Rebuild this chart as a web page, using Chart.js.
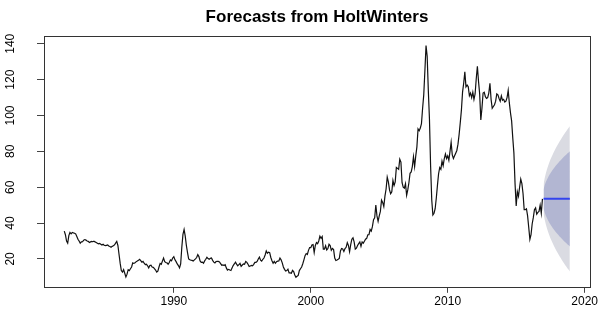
<!DOCTYPE html>
<html>
<head>
<meta charset="utf-8">
<script src="https://cdn.jsdelivr.net/npm/chart.js@4.4.1/dist/chart.umd.min.js"></script>
<style>
  body { margin: 0; background: #fff; }
  #wrap { width: 602px; height: 310px; }
</style>
</head>
<body>
<div id="wrap"><canvas id="myChart" width="602" height="310"></canvas></div>
<script>
// monthly observations, Jan 1982 .. Dec 2016
const startYear = 1982;
const price = [
  35.5, 33.5, 30.0, 28.8, 33.0, 34.8, 34.0, 34.8, 34.5, 34.3, 34.0, 32.5, // 1982
  31.0, 30.0, 28.8, 29.5, 29.6, 30.5, 30.8, 30.5, 30.0, 29.8, 29.2, 29.5, // 1983
  29.8, 29.6, 29.9, 29.5, 29.2, 28.8, 28.4, 28.6, 28.2, 27.8, 28.2, 27.6, // 1984
  27.4, 27.6, 27.8, 27.2, 26.9, 26.5, 27.0, 27.3, 27.8, 28.8, 29.8, 27.5, // 1985
  22.5, 17.5, 13.5, 12.7, 14.0, 12.0, 9.9, 11.5, 14.0, 13.5, 14.5, 15.5,  // 1986
  17.8, 17.5, 17.8, 18.5, 18.8, 19.2, 19.8, 19.0, 18.2, 18.6, 17.6, 16.8, // 1987
  17.0, 16.2, 15.0, 16.3, 16.5, 15.5, 15.3, 14.6, 13.8, 12.7, 13.2, 15.5, // 1988
  17.5, 17.0, 18.8, 20.5, 18.5, 18.0, 17.8, 17.0, 18.0, 19.5, 19.0, 20.5, // 1989
  21.3, 19.5, 18.5, 17.2, 16.3, 15.0, 17.3, 26.5, 33.7, 36.4, 32.7, 27.5, // 1990
  23.5, 20.0, 19.5, 19.3, 19.2, 18.8, 19.5, 20.0, 20.8, 22.4, 21.3, 18.9, // 1991
  18.1, 18.2, 17.6, 18.9, 19.8, 20.9, 20.2, 19.8, 20.3, 20.5, 19.2, 18.2, // 1992
  17.8, 18.5, 18.7, 18.6, 18.3, 17.4, 16.5, 16.7, 16.3, 16.8, 15.0, 13.8, // 1993
  14.2, 13.8, 13.6, 15.0, 16.3, 17.2, 18.2, 17.1, 16.2, 16.8, 17.5, 15.9, // 1994
  16.6, 17.2, 17.0, 18.6, 18.1, 17.0, 15.8, 16.1, 16.4, 16.2, 17.0, 18.1, // 1995
  18.1, 18.6, 20.0, 21.0, 19.3, 18.8, 19.8, 20.5, 22.2, 24.5, 23.2, 23.8, // 1996
  23.5, 20.8, 19.0, 17.6, 18.6, 17.6, 18.5, 18.8, 18.9, 20.5, 19.5, 17.8, // 1997
  15.5, 14.2, 13.3, 13.5, 14.3, 12.2, 12.2, 12.0, 13.6, 12.9, 11.1, 9.8,  // 1998
  10.3, 10.8, 13.5, 14.5, 15.5, 17.3, 19.5, 21.8, 23.0, 22.5, 24.8, 26.3, // 1999
  26.3, 27.8, 28.0, 23.6, 27.5, 29.1, 28.5, 30.0, 32.7, 31.5, 32.5, 25.5, // 2000
  25.5, 27.3, 25.0, 25.8, 28.2, 27.5, 24.8, 25.8, 25.2, 20.5, 19.1, 19.4, // 2001
  19.8, 20.3, 24.5, 25.8, 25.5, 24.2, 25.8, 26.5, 29.1, 27.5, 24.0, 28.0, // 2002
  31.0, 31.8, 29.5, 25.5, 26.0, 27.5, 28.5, 29.5, 27.0, 29.5, 28.8, 29.9, // 2003
  31.0, 31.5, 33.5, 33.5, 36.4, 35.5, 38.0, 41.9, 43.0, 50.1, 44.0, 41.0, // 2004
  44.0, 46.5, 52.8, 51.5, 49.2, 55.0, 59.0, 65.6, 63.0, 58.5, 56.4, 57.5, // 2005
  63.8, 61.0, 63.0, 71.0, 70.5, 70.0, 75.6, 74.0, 62.5, 60.0, 59.5, 62.0, // 2006
  55.5, 58.5, 62.5, 67.8, 68.5, 71.5, 77.0, 71.5, 77.5, 82.5, 92.5, 91.5, // 2007
  93.0, 95.5, 104.0, 111.5, 125.0, 139.0, 133.0, 114.0, 98.0, 72.0, 53.0, 44.5, // 2008
  45.5, 48.0, 54.0, 61.0, 67.5, 71.0, 70.0, 74.5, 72.0, 76.0, 78.5, 76.0, // 2009
  77.5, 75.0, 80.0, 85.0, 78.0, 76.0, 77.5, 79.0, 80.5, 84.0, 89.5, 96.0, // 2010
  103.0, 113.0, 118.0, 124.3, 116.0, 117.0, 116.0, 111.0, 112.5, 110.0, 113.0, 109.0, // 2011
  112.0, 120.5, 127.5, 119.0, 112.0, 97.5, 104.0, 112.5, 113.0, 110.5, 109.5, 110.0, // 2012
  112.5, 118.0, 109.0, 104.0, 105.0, 106.0, 108.0, 112.0, 111.5, 109.5, 108.0, 111.0, // 2013
  108.5, 109.0, 107.5, 108.0, 110.0, 114.0, 107.0, 101.5, 97.0, 87.5, 79.0, 62.0, // 2014
  49.5, 57.5, 55.0, 60.0, 64.5, 62.0, 56.5, 47.5, 47.5, 48.0, 44.0, 37.5, // 2015
  30.9, 33.5, 39.5, 43.0, 47.5, 48.5, 45.0, 46.0, 46.5, 50.0, 45.5, 53.5  // 2016
];

// forecast, Jan 2017 .. Dec 2018
const fcStart = 2017;
const fcMean = [53.5, 53.5, 53.5, 53.5, 53.5, 53.5, 53.5, 53.5, 53.5, 53.5, 53.5, 53.5,
                53.5, 53.5, 53.5, 53.5, 53.5, 53.5, 53.5, 53.5, 53.5, 53.5, 53.5, 53.5];
const fcHi80 = [58.9, 61.2, 62.9, 64.3, 65.6, 66.8, 67.8, 68.8, 69.7, 70.6, 71.4, 72.2,
                73.0, 73.7, 74.5, 75.1, 75.8, 76.5, 77.1, 77.7, 78.3, 78.9, 79.4, 80.0];
const fcLo80 = [48.1, 45.8, 44.1, 42.7, 41.4, 40.2, 39.2, 38.2, 37.3, 36.4, 35.6, 34.8,
                34.0, 33.3, 32.5, 31.9, 31.2, 30.5, 29.9, 29.3, 28.7, 28.1, 27.6, 27.0];
const fcHi95 = [61.8, 65.2, 67.8, 70.0, 72.0, 73.8, 75.4, 76.9, 78.3, 79.6, 80.9, 82.1,
                83.3, 84.4, 85.5, 86.5, 87.6, 88.6, 89.5, 90.5, 91.4, 92.3, 93.1, 94.0];
const fcLo95 = [45.2, 41.8, 39.2, 37.0, 35.0, 33.2, 31.6, 30.1, 28.7, 27.4, 26.1, 24.9,
                23.7, 22.6, 21.5, 20.5, 19.4, 18.4, 17.5, 16.5, 15.6, 14.7, 13.9, 13.0];

const xTicks = [1990, 2000, 2010, 2020];
const yTicks = [20, 40, 60, 80, 100, 120, 140];

const hist = price.map((v, i) => ({ x: startYear + i / 12, y: v }));
const fc = arr => arr.map((v, i) => ({ x: fcStart + i / 12, y: v }));

const boxPlugin = {
  id: 'box',
  afterDraw(chart) {
    const a = chart.chartArea, ctx = chart.ctx;
    ctx.save();
    ctx.strokeStyle = '#333';
    ctx.lineWidth = 1;
    ctx.strokeRect(Math.round(a.left) + 0.5, Math.round(a.top) + 0.5,
                   Math.round(a.right - a.left), Math.round(a.bottom - a.top));
    ctx.restore();
  }
};

const font = { family: '"Liberation Sans", Arial, sans-serif', size: 12 };

new Chart(document.getElementById('myChart'), {
  type: 'line',
  data: {
    datasets: [
      { data: hist, borderColor: '#111', borderWidth: 1.2, pointRadius: 0, fill: false, tension: 0 },
      { data: fc(fcMean), borderColor: '#3344ee', borderWidth: 2, pointRadius: 0, fill: false },
      { data: fc(fcHi80), borderWidth: 0, pointRadius: 0, backgroundColor: '#b2b6d2', fill: '+1' },
      { data: fc(fcLo80), borderWidth: 0, pointRadius: 0, fill: false },
      { data: fc(fcHi95), borderWidth: 0, pointRadius: 0, backgroundColor: '#dadbe2', fill: '+1' },
      { data: fc(fcLo95), borderWidth: 0, pointRadius: 0, fill: false }
    ]
  },
  options: {
    responsive: false,
    animation: false,
    layout: { padding: { left: 0, right: 12, top: 0, bottom: 0 } },
    plugins: {
      legend: { display: false },
      tooltip: { enabled: false },
      title: {
        display: true,
        text: 'Forecasts from HoltWinters',
        color: '#000',
        fullSize: false,
        font: { family: '"Liberation Sans", Arial, sans-serif', size: 17, weight: 'bold' },
        padding: { top: 7, bottom: 8.3 }
      }
    },
    scales: {
      x: {
        type: 'linear',
        min: 1980.52,
        max: 2020.39,
        afterBuildTicks: s => { s.ticks = xTicks.map(v => ({ value: v })); },
        afterFit: s => { s.height = 18.3; s.paddingLeft = 0; s.paddingRight = 0; },
        grid: { drawOnChartArea: false, drawTicks: true, tickLength: 6, tickColor: '#444' },
        border: { display: false },
        ticks: { maxRotation: 0, autoSkip: false, padding: 2, color: '#000', font, callback: v => String(v) }
      },
      y: {
        min: 4.46,
        max: 144.5,
        afterBuildTicks: s => { s.ticks = yTicks.map(v => ({ value: v })); },
        afterFit: s => { s.width = 44; },
        grid: { drawOnChartArea: false, drawTicks: true, tickLength: 7, tickColor: '#444' },
        border: { display: false },
        ticks: { minRotation: 90, maxRotation: 90, crossAlign: 'center', padding: 16, color: '#000', font, callback: v => String(v) }
      }
    }
  },
  plugins: [boxPlugin]
});
</script>
</body>
</html>
